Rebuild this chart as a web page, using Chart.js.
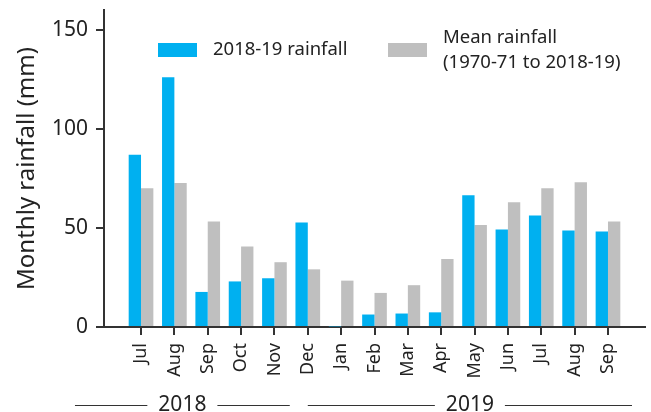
<!DOCTYPE html>
<html>
<head>
<meta charset="utf-8">
<script src="https://cdn.jsdelivr.net/npm/chart.js@4"></script>
<style>
  html, body { margin: 0; padding: 0; background: #fff; }
  #chart { display: block; }
</style>
</head>
<body>
<canvas id="chart" width="651" height="412"></canvas>
<script>
// monthly rainfall, Jul 2018 - Sep 2019
const months = ["Jul", "Aug", "Sep", "Oct", "Nov", "Dec", "Jan", "Feb", "Mar", "Apr", "May", "Jun", "Jul", "Aug", "Sep"];
const rain201819 = [87, 126, 17.7, 23, 24.6, 52.7, 0.3, 6.3, 6.8, 7.4, 66.5, 49.2, 56.3, 48.7, 48.2];
const meanRain = [70, 72.7, 53.2, 40.6, 32.7, 29.1, 23.4, 17.2, 21.1, 34.3, 51.5, 63, 70, 73, 53.2];
const yTicks = [0, 50, 100, 150];
const seriesLabels = ["2018-19 rainfall", "Mean rainfall\n(1970-71 to 2018-19)"];
const yearLabels = ["2018", "2019"];

const FONT = "'Noto Sans', 'Open Sans', sans-serif";
const TEXT = "#222";
const AXIS = "#333";
const colors = ["#00b0f0", "#bfbfbf"];

// year groups under the axis, in x-scale units: [from, to]
const yearSpans = [[-1.98, 4.46], [5.0, 14.72]];

const legendPlugin = {
  id: "boxLegend",
  afterDraw(chart) {
    const ctx = chart.ctx;
    ctx.save();
    ctx.font = "18.5px " + FONT;
    ctx.textBaseline = "middle";
    const spots = [{ box: 158, text: 213 }, { box: 388, text: 443 }];
    chart.data.datasets.forEach((ds, i) => {
      ctx.fillStyle = ds.backgroundColor;
      ctx.fillRect(spots[i].box, 43, 39, 14);
      ctx.fillStyle = TEXT;
      const lines = ds.label.split("\n");
      const start = 50 - (lines.length - 1) * 12.5;
      lines.forEach((l, j) => ctx.fillText(l, spots[i].text, start + j * 25));
    });
    ctx.restore();
  }
};

const yearPlugin = {
  id: "yearLabels",
  afterDraw(chart) {
    const ctx = chart.ctx;
    const x = chart.scales.x;
    const y = 405;
    ctx.save();
    ctx.font = "21px " + FONT;
    ctx.fillStyle = TEXT;
    ctx.strokeStyle = AXIS;
    ctx.lineWidth = 1;
    ctx.textAlign = "center";
    ctx.textBaseline = "middle";
    yearLabels.forEach((label, i) => {
      const a = x.getPixelForValue(yearSpans[i][0]);
      const b = x.getPixelForValue(yearSpans[i][1]);
      const mid = (a + b) / 2;
      const half = ctx.measureText(label).width / 2 + 11;
      ctx.beginPath();
      ctx.moveTo(a, y + 0.5);
      ctx.lineTo(mid - half, y + 0.5);
      ctx.moveTo(mid + half, y + 0.5);
      ctx.lineTo(b, y + 0.5);
      ctx.stroke();
      ctx.fillText(label, mid, y);
    });
    ctx.restore();
  }
};

new Chart(document.getElementById("chart"), {
  type: "bar",
  data: {
    datasets: [
      {
        label: seriesLabels[0],
        data: rain201819.map((v, i) => ({ x: i, y: v })),
        backgroundColor: colors[0]
      },
      {
        label: seriesLabels[1],
        data: meanRain.map((v, i) => ({ x: i, y: v })),
        backgroundColor: colors[1]
      }
    ]
  },
  options: {
    responsive: false,
    animation: false,
    devicePixelRatio: 1,
    layout: { padding: { top: 10, right: 6, left: 0, bottom: 0 } },
    datasets: {
      bar: { categoryPercentage: 0.74, barPercentage: 1.0, borderWidth: 0 }
    },
    plugins: {
      legend: { display: false },
      tooltip: { enabled: false }
    },
    scales: {
      x: {
        type: "linear",
        offset: false,
        min: -1.11,
        max: 15.11,
        afterBuildTicks: s => { s.ticks = months.map((m, i) => ({ value: i })); },
        afterFit: s => { s.height = 85; s.paddingLeft = 0; s.paddingRight = 0; },
        border: { display: true, color: AXIS, width: 2 },
        grid: { offset: false, drawOnChartArea: false, drawTicks: true, tickLength: 8, color: AXIS, lineWidth: 2 },
        ticks: {
          autoSkip: false,
          minRotation: 90,
          maxRotation: 90,
          padding: 8,
          color: TEXT,
          font: { family: FONT, size: 18 },
          callback: v => months[v]
        }
      },
      y: {
        min: 0,
        max: 160,
        afterBuildTicks: s => { s.ticks = yTicks.map(v => ({ value: v })); },
        afterFit: s => { s.width = 104; s.paddingTop = 0; s.paddingBottom = 0; },
        border: { display: true, color: AXIS, width: 2 },
        grid: { drawOnChartArea: false, drawTicks: true, tickLength: 8, color: AXIS, lineWidth: 2 },
        ticks: {
          padding: 8,
          color: TEXT,
          font: { family: FONT, size: 21 }
        },
        title: {
          display: true,
          text: "Monthly rainfall (mm)",
          color: TEXT,
          font: { family: FONT, size: 24 },
          padding: { top: 13, bottom: 0 }
        }
      }
    }
  },
  plugins: [legendPlugin, yearPlugin]
});
</script>
</body>
</html>
